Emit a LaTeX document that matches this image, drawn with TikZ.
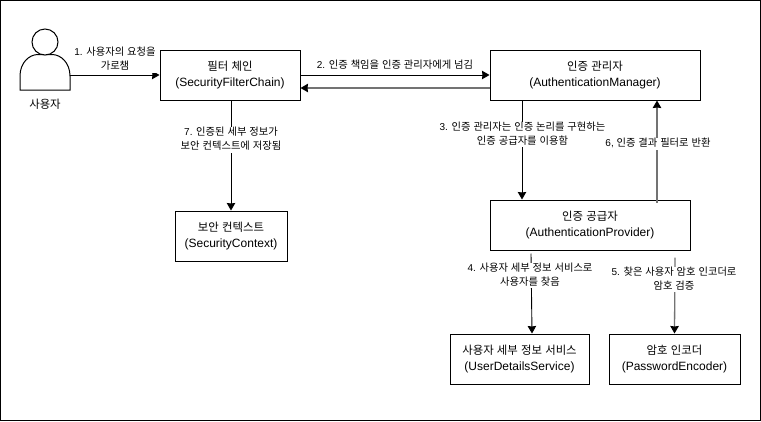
\documentclass[tikz,border=0pt]{standalone}
\usepackage{fontspec}
\setmainfont{Liberation Sans}
\newfontfamily\krfont[WordSpace=1.25,Scale=1.03]{Noto Sans CJK KR}
\newfontfamily\krboxfont[WordSpace=1.25,Scale=0.95]{Noto Sans CJK KR}
\newcommand{\K}[1]{\smash{\krfont #1}\vphantom{(}}
\newcommand{\KB}[1]{\smash{\krboxfont #1}\vphantom{(}}
\usetikzlibrary{arrows.meta}
\tikzset{
  x=1pt,y=-1pt,
  boxnode/.style={draw=black,line width=1pt,fill=white,inner sep=0pt,align=center,
    font=\fontsize{12}{16}\selectfont},
  lbl/.style={fill=white,inner sep=1pt,align=center,font=\fontsize{10}{14}\selectfont},
  conn/.style={draw=black,line width=0.9pt,-{Stealth[length=7.5pt,width=8.5pt,inset=0.5pt]}},
  conngray/.style={draw=black!55,line width=1.3pt,-{Stealth[length=7.5pt,width=8.5pt,inset=0.5pt,fill=black,color=black]}},
  figure/.style={draw=black,line width=1pt,fill=white},
}
\begin{document}
\begin{tikzpicture}
\useasboundingbox (0,0) rectangle (761,421);
\node[draw=black,line width=1pt,fill=white,minimum width=760pt,minimum height=419.5pt,inner sep=0pt] (frame) at (380.5,210.5) {};

% actor
\draw[figure] (20,90) -- (20,76) .. controls (20,63) and (29,54.5) .. (38,54.5)
  -- (52,54.5) .. controls (61,54.5) and (70,63) .. (70,76) -- (70,90) -- cycle;
\node[draw=black,line width=1pt,fill=white,circle,minimum size=26pt,inner sep=0pt] (head) at (45,42) {};
\node[font=\fontsize{12}{14}\selectfont,inner sep=0pt] (actorlabel) at (45,105) {\KB{사용자}};
\coordinate (actor) at (70,75);

% boxes
\node[boxnode,minimum width=140pt,minimum height=50pt] (filter) at (230,75) {\KB{필터 체인}\\(SecurityFilterChain)};
\node[boxnode,minimum width=210pt,minimum height=50pt] (manager) at (595,75) {\KB{인증 관리자}\\(AuthenticationManager)};
\node[boxnode,minimum width=200pt,minimum height=50pt] (provider) at (590,225) {\KB{인증 공급자}\\(AuthenticationProvider)};
\node[boxnode,minimum width=112pt,minimum height=50pt] (context) at (231,236) {\KB{보안 컨텍스트}\\(SecurityContext)};
\node[boxnode,minimum width=139pt,minimum height=50pt] (uds) at (519.5,359) {\KB{사용자 세부 정보 서비스}\\(UserDetailsService)};
\node[boxnode,minimum width=131pt,minimum height=50pt] (encoder) at (674.5,359) {\KB{암호 인코더}\\(PasswordEncoder)};

% connectors
\draw[conn] (actor) -- (filter.west);
\draw[conn] (filter.east) -- (manager.west);
\draw[conngray] ([yshift=-13pt]manager.west) -- ([yshift=-13pt]filter.east);
\draw[conn] ([xshift=-73pt]manager.south) -- ([xshift=-68pt]provider.north);
\draw[conngray] ([xshift=67pt,yshift=-3pt]provider.north) -- ([xshift=62pt]manager.south);
\draw[conn] ([xshift=-59pt,yshift=-3pt]provider.south) -- ([xshift=12.5pt]uds.north);
\draw[conngray] ([xshift=85pt,yshift=-7pt]provider.south) -- (encoder.north);
\draw[conn] ([xshift=1pt]filter.south) -- (context.north);

% labels
\node[lbl] (l1) at (115,60) {1. \K{사용자의 요청을}\\\K{가로챔}};
\node[lbl] (l2) at (395,66) {2. \K{인증 책임을 인증 관리자에게 넘김}};
\node[lbl] (l3) at (522.5,134.5) {3. \K{인증 관리자는 인증 논리를 구현하는}\\\K{인증 공급자를 이용함}};
\node[lbl] (l6) at (658,144) {6, \K{인증 결과 필터로 반환}};
\node[lbl] (l7) at (231,140) {7. \K{인증된 세부 정보가}\\\K{보안 컨텍스트에 저장됨}};
\node[lbl] (l4) at (530,275.5) {4. \K{사용자 세부 정보 서비스로}\\\K{사용자를 찾음}};
\node[lbl] (l5) at (674,279.5) {5. \K{찾은 사용자 암호 인코더로}\\\K{암호 검증}};
\end{tikzpicture}
\end{document}
